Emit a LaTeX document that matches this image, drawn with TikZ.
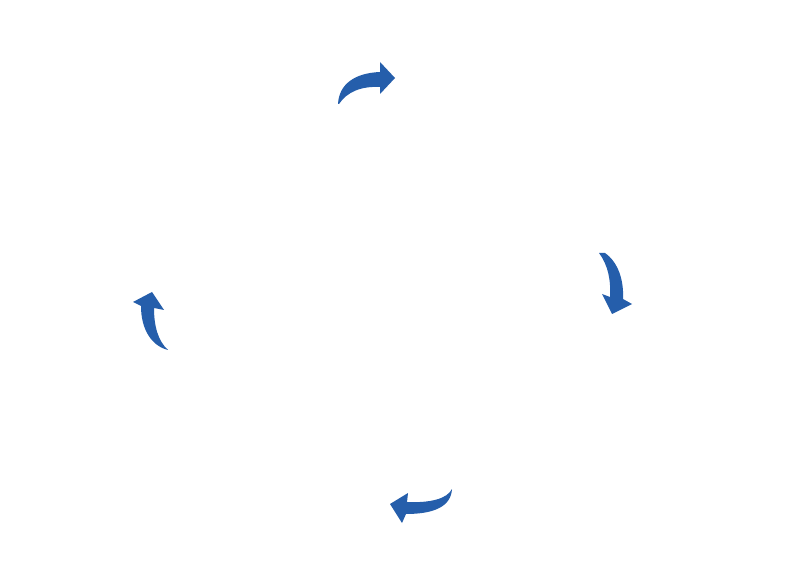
\documentclass[tikz,border=0pt]{standalone}
\usepackage{xcolor}
\definecolor{cycblue}{HTML}{255EAB}
\tikzset{cycarrow/.style={fill=cycblue, draw=none}}
\begin{document}
\begin{tikzpicture}[x=0.75pt, y=-0.75pt]
        \useasboundingbox[fill=white] (0,0) rectangle (800,577);
        % top arrow, pointing right
        \fill[cycarrow] (338,104) .. controls (339,84) and (355,73) .. (380,72) -- (380,62) -- (395,78) -- (380,94) -- (380,87) .. controls (361,86) and (347,92) .. (339,104) -- cycle;
        % right arrow, pointing down
        \fill[cycarrow] (599,253) -- (605,253) .. controls (618,262) and (624,280) .. (623,299) -- (632,304) -- (612,314) -- (602,294) -- (610,297) .. controls (611,280) and (608,265) .. (599,253) -- cycle;
        % bottom arrow, pointing left
        \fill[cycarrow] (452,489) .. controls (451,506) and (435,514) .. (406,514) -- (402,523) -- (390,504) -- (408,493) -- (407,502) .. controls (430,503) and (447,499) .. (452,489) -- cycle;
        % left arrow, pointing up
        \fill[cycarrow] (168,350) .. controls (152,346) and (141,330) .. (141,306) -- (133,302) -- (152,292) -- (164,310) -- (154,308) .. controls (154,326) and (158,341) .. (168,350) -- cycle;
      \end{tikzpicture}
\end{document}
